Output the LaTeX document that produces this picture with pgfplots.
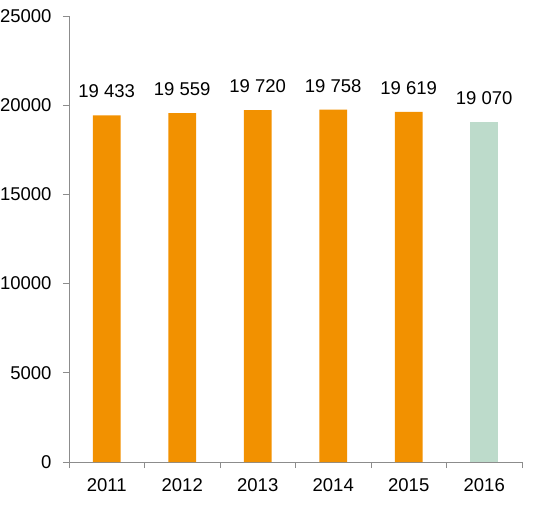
\documentclass[border=0pt]{standalone}
\usepackage{pgfplots}
\pgfplotsset{compat=1.18}
\usepackage{fontspec}
\setmainfont{Liberation Sans}
\usetikzlibrary{calc}
\definecolor{barorange}{RGB}{242,145,0}
\definecolor{bargreen}{RGB}{189,219,203}
\definecolor{axisgray}{RGB}{140,140,140}
\begin{document}
\begin{tikzpicture}
\begin{axis}[
    name=ax,
    scale only axis,
    width=453bp, height=446bp,
    xmin=-0.5, xmax=5.5,
    ymin=0, ymax=25000,
    axis lines=left,
    axis line style={-, axisgray, line width=0.8bp},
    tick style={axisgray, line width=0.8bp},
    tick align=outside,
    major tick length=6bp,
    xtick={-0.5,0.5,...,5.5},
    x tick label as interval,
    xticklabels={2011,2012,2013,2014,2015,2016},
    ytick={0,5000,...,25000},
    scaled y ticks=false,
    /pgf/number format/1000 sep={},
    /pgf/number format/assume math mode=true,
    tick label style={font=\fontsize{18.5bp}{22bp}\selectfont, black},
    xticklabel style={yshift=-7.5bp},
    yticklabel style={xshift=-8bp},
    ybar, bar width=0.37,
    bar shift=0pt,
    nodes near coords,
    point meta=explicit symbolic,
    every node near coord/.append style={font=\fontsize{18.5bp}{22bp}\selectfont, black, anchor=south, inner sep=0pt, yshift=17bp},
    clip=false,
]
\addplot[fill=barorange, draw=none] coordinates {
    (0,19433) [19 433]
    (1,19559) [19 559]
    (2,19720) [19 720]
    (3,19758) [19 758]
    (4,19619) [19 619]
};
\addplot[fill=bargreen, draw=none] coordinates {
    (5,19070) [19 070]
};
\end{axis}
\pgfresetboundingbox
\path[use as bounding box] ($(ax.south west)+(-69bp,-43bp)$) rectangle ($(ax.north east)+(18bp,16bp)$);
\end{tikzpicture}
\end{document}
